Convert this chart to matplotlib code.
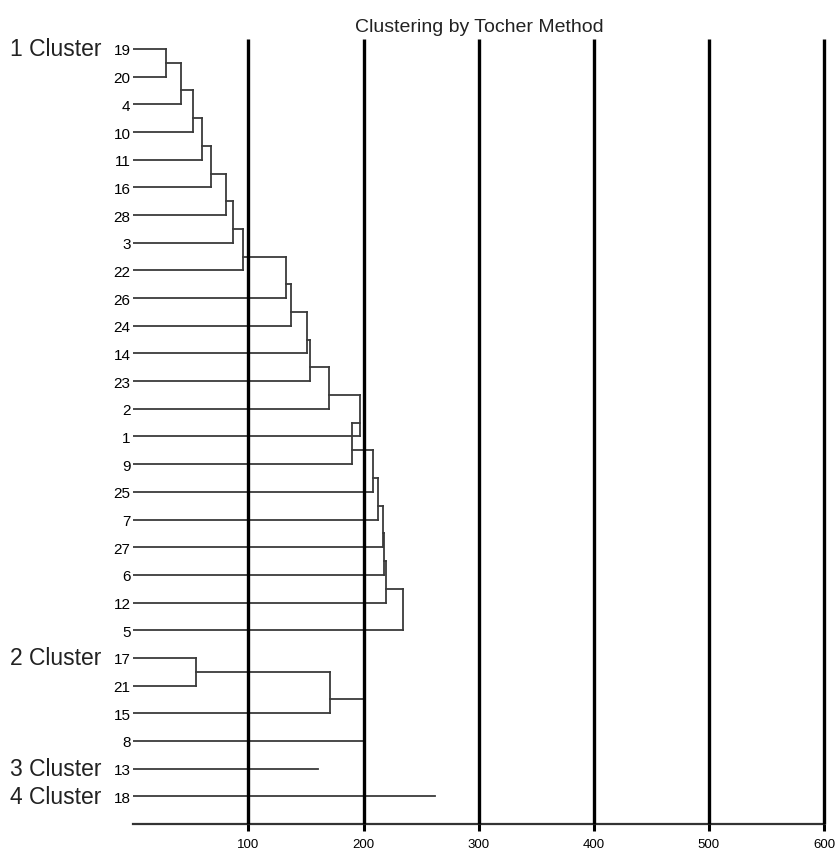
import matplotlib
matplotlib.use("Agg")
import matplotlib.pyplot as plt
from matplotlib.transforms import blended_transform_factory

plt.rcParams['font.family'] = ['Liberation Sans', 'DejaVu Sans']

# leaf order, top to bottom
leaves = [19, 20, 4, 10, 11, 16, 28, 3, 22, 26, 24, 14, 23, 2, 1, 9, 25, 7,
          27, 6, 12, 5, 17, 21, 15, 8, 13, 18]

# merge distance of each following leaf into the growing group
cluster1 = [28.4, 41.5, 51.7, 59.7, 67.6, 80.6, 86.4, 95.7, 132.8, 136.9,
            151.3, 153.7, 170.4, 196.5, 189.9, 208.2, 212.2, 216.9, 218.0,
            219.7, 233.9]
cluster2 = [54.3, 171.0, 200.0]
# single-member groups: length of their line
cluster3 = 160.3
cluster4 = 262.3

cluster_names = ["1 Cluster", "2 Cluster", "3 Cluster", "4 Cluster"]
cluster_first = [0, 22, 26, 27]   # index of first leaf of each group

xticks = [100, 200, 300, 400, 500, 600]

W, H = 839, 853
fig = plt.figure(figsize=(W / 100, H / 100), dpi=100)
ax = fig.add_axes([133.3 / W, 1 - 825 / H, (824 - 133.3) / W, (825 - 40) / H])

lc = '#3a3a3a'
lw = 1.3


def draw_chain(start, heights):
    ax.plot([0, heights[0]], [start, start], color=lc, lw=lw)
    prev_out = start
    for k in range(1, len(heights) + 1):
        h = heights[k - 1]
        y = start + k
        ax.plot([0, h], [y, y], color=lc, lw=lw)
        ax.plot([h, h], [prev_out, y], color=lc, lw=lw)
        if k >= 2:
            ax.plot([heights[k - 2], h], [prev_out, prev_out], color=lc, lw=lw)
        prev_out = y - 0.5


draw_chain(cluster_first[0], cluster1)
draw_chain(cluster_first[1], cluster2)
ax.plot([0, cluster3], [cluster_first[2]] * 2, color=lc, lw=lw)
ax.plot([0, cluster4], [cluster_first[3]] * 2, color=lc, lw=lw)

ax.vlines(xticks, -0.36, 28.0, color='black', lw=2.4, zorder=3, clip_on=False)

ax.set_xlim(0, 600)
ax.set_ylim(28.0, -0.36)
ax.set_xticks(xticks)
ax.set_xticklabels([str(t) for t in xticks], fontsize=9.5)
ax.tick_params(axis='x', length=5, width=2.2, pad=5, color='black')
ax.set_yticks(range(len(leaves)))
ax.set_yticklabels([str(v) for v in leaves], fontsize=11)
ax.tick_params(axis='y', length=0, pad=2)

for s in ['top', 'right', 'left']:
    ax.spines[s].set_visible(False)
ax.spines['bottom'].set_linewidth(1.6)
ax.spines['bottom'].set_color('#333333')

tr = blended_transform_factory(fig.transFigure, ax.transData)
for name, start in zip(cluster_names, cluster_first):
    ax.text(10 / W, start, name, transform=tr, fontsize=16.5,
            ha='left', va='center', color='#222222')

fig.text(479 / W, 1 - 28 / H, "Clustering by Tocher Method", fontsize=14,
         ha='center', va='center', color='#222222')

fig.savefig("out.png", dpi=100)
